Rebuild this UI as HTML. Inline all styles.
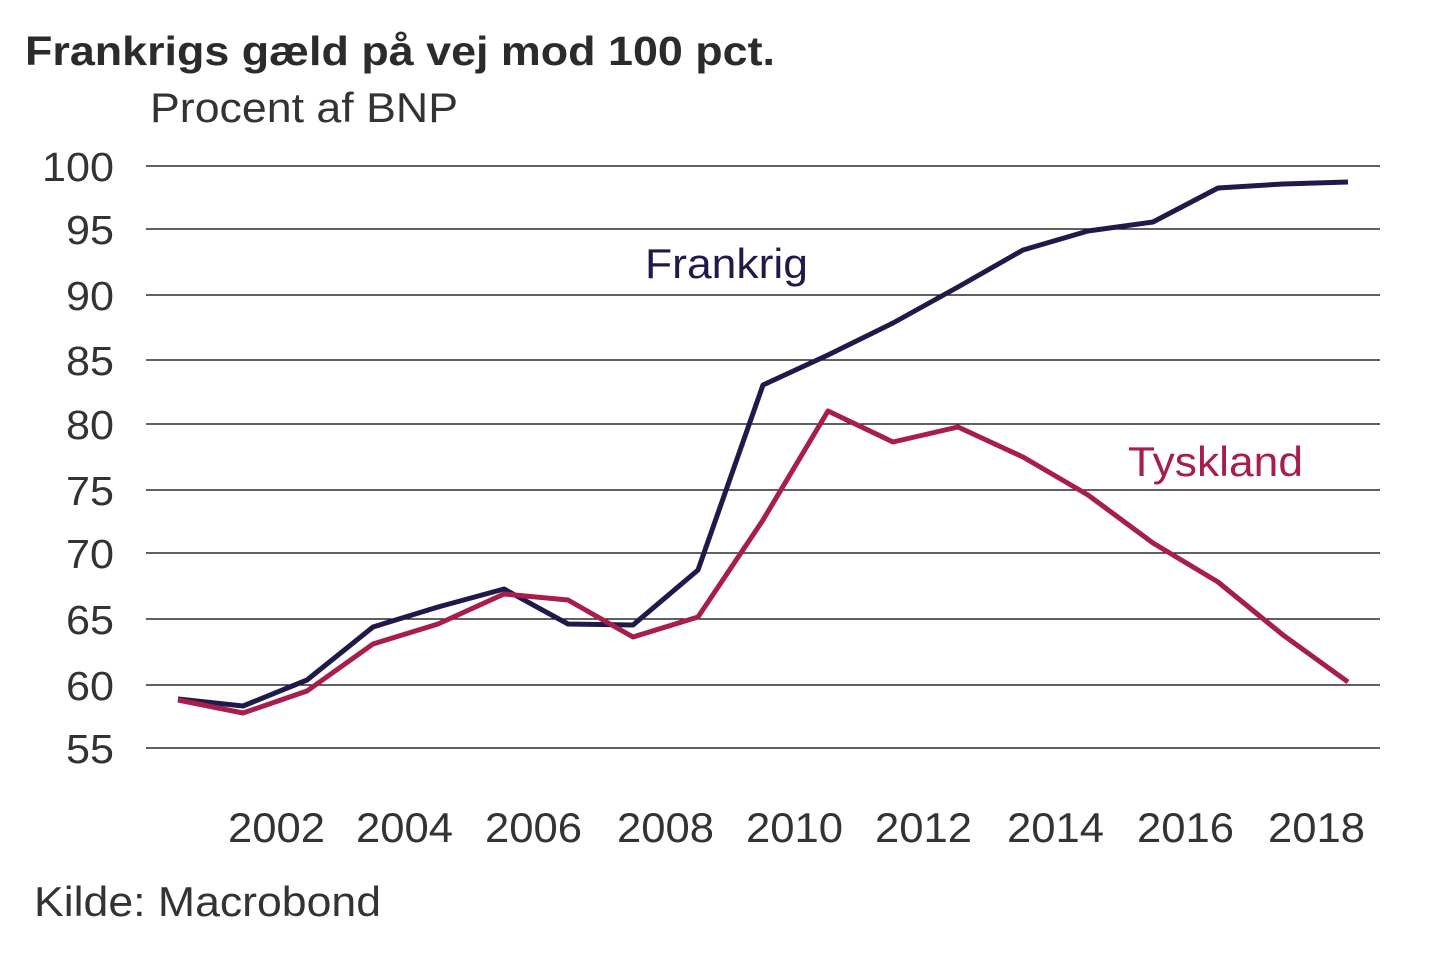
<!DOCTYPE html>
<html><head><meta charset="utf-8"><style>
html,body{margin:0;padding:0;background:#fff;}
</style></head><body>
<svg width="1440" height="960" xmlns="http://www.w3.org/2000/svg" font-family="Liberation Sans, Arial, sans-serif">
<rect width="1440" height="960" fill="#fff"/>
<text x="25" y="65" font-size="41" font-weight="bold" fill="#2b2b2b" textLength="750" lengthAdjust="spacingAndGlyphs">Frankrigs gæld på vej mod 100 pct.</text>
<text x="150" y="122" font-size="42" fill="#333" textLength="308" lengthAdjust="spacingAndGlyphs">Procent af BNP</text>
<g stroke="#000" stroke-width="1.3">
<line x1="146" x2="1380" y1="166" y2="166"/><line x1="146" x2="1380" y1="229" y2="229"/>
<line x1="146" x2="1380" y1="295" y2="295"/><line x1="146" x2="1380" y1="360" y2="360"/>
<line x1="146" x2="1380" y1="424" y2="424"/><line x1="146" x2="1380" y1="490" y2="490"/>
<line x1="146" x2="1380" y1="553" y2="553"/><line x1="146" x2="1380" y1="619" y2="619"/>
<line x1="146" x2="1380" y1="685" y2="685"/><line x1="146" x2="1380" y1="748" y2="748"/>
</g>
<g font-size="41" fill="#333">
<text x="42" y="181" textLength="72" lengthAdjust="spacingAndGlyphs">100</text>
<text x="66" y="244" textLength="48" lengthAdjust="spacingAndGlyphs">95</text>
<text x="66" y="310" textLength="48" lengthAdjust="spacingAndGlyphs">90</text>
<text x="66" y="375" textLength="48" lengthAdjust="spacingAndGlyphs">85</text>
<text x="66" y="439" textLength="48" lengthAdjust="spacingAndGlyphs">80</text>
<text x="66" y="505" textLength="48" lengthAdjust="spacingAndGlyphs">75</text>
<text x="66" y="568" textLength="48" lengthAdjust="spacingAndGlyphs">70</text>
<text x="66" y="634" textLength="48" lengthAdjust="spacingAndGlyphs">65</text>
<text x="66" y="700" textLength="48" lengthAdjust="spacingAndGlyphs">60</text>
<text x="66" y="763" textLength="48" lengthAdjust="spacingAndGlyphs">55</text>
</g>
<g font-size="42" fill="#333">
<text x="228" y="842" textLength="97" lengthAdjust="spacingAndGlyphs">2002</text>
<text x="356" y="842" textLength="97" lengthAdjust="spacingAndGlyphs">2004</text>
<text x="485" y="842" textLength="97" lengthAdjust="spacingAndGlyphs">2006</text>
<text x="617" y="842" textLength="97" lengthAdjust="spacingAndGlyphs">2008</text>
<text x="746" y="842" textLength="97" lengthAdjust="spacingAndGlyphs">2010</text>
<text x="875" y="842" textLength="97" lengthAdjust="spacingAndGlyphs">2012</text>
<text x="1007" y="842" textLength="97" lengthAdjust="spacingAndGlyphs">2014</text>
<text x="1137" y="842" textLength="97" lengthAdjust="spacingAndGlyphs">2016</text>
<text x="1268" y="842" textLength="97" lengthAdjust="spacingAndGlyphs">2018</text>
</g>
<polyline fill="none" stroke="#1f1a4a" stroke-width="5" stroke-linejoin="round" points="178,699 243,706 307,680 373,627 438,607 504,589 568,624 633,625 698,570 763,385 828,355 893,323 958,287 1023,250 1088,231 1153,222 1218,188 1283,184 1348,182"/>
<polyline fill="none" stroke="#a71d4b" stroke-width="5" stroke-linejoin="round" points="178,700 243,713 307,691 373,644 438,624 504,594 568,600 633,637 698,617 763,520 828,411 893,442 958,427 1023,457 1088,495 1153,543 1218,582 1283,635 1348,682"/>
<text x="645" y="278" font-size="42" fill="#1f1a4a" textLength="163" lengthAdjust="spacingAndGlyphs">Frankrig</text>
<text x="1128" y="476" font-size="42" fill="#a71d4b" textLength="175" lengthAdjust="spacingAndGlyphs">Tyskland</text>
<text x="34" y="916" font-size="42" fill="#333" textLength="347" lengthAdjust="spacingAndGlyphs">Kilde: Macrobond</text>
</svg>
</body></html>
